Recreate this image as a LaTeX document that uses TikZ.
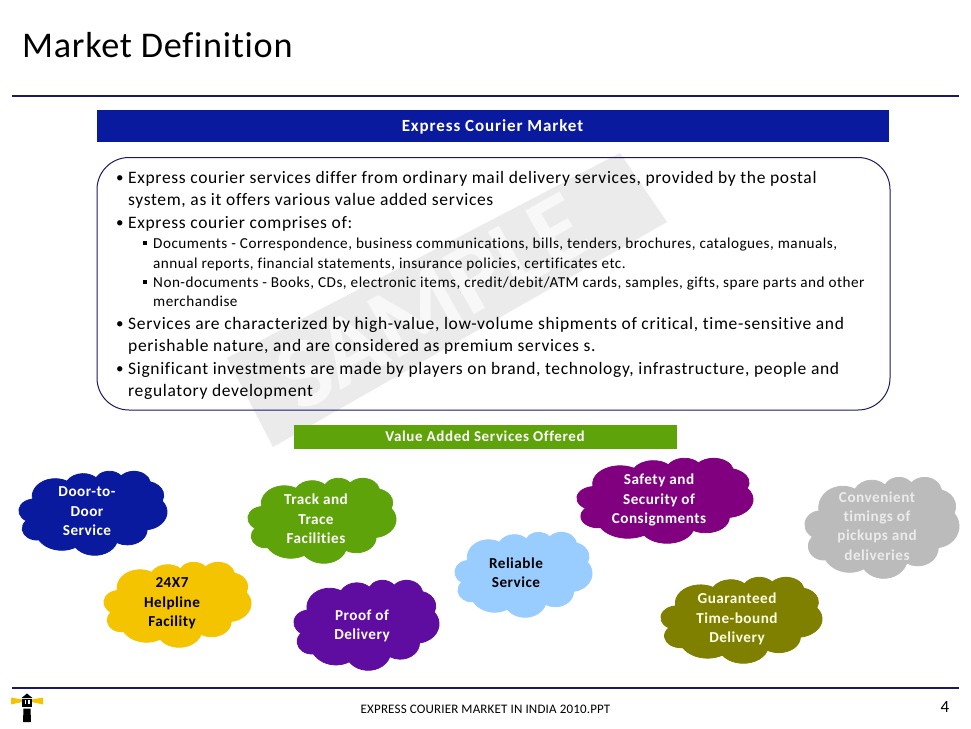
\documentclass[tikz,border=0pt]{standalone}
\usepackage{fontspec}
\setmainfont{Carlito}[Ligatures=NoCommon,RawFeature={-liga;-clig}]
\newfontfamily\titlefont[RawFeature={-liga;-clig},LetterSpace=2]{Carlito}
\newfontfamily\mainls[LetterSpace=3.8,RawFeature={-liga;-clig}]{Carlito}
\newfontfamily\subls[LetterSpace=3.2,RawFeature={-liga;-clig}]{Carlito}
\newfontfamily\boldls[LetterSpace=3.2,RawFeature={-liga;-clig}]{Carlito}
\newfontfamily\hdrls[LetterSpace=5.3,RawFeature={-liga;-clig}]{Carlito}
\newfontfamily\vasls[LetterSpace=4.2,RawFeature={-liga;-clig}]{Carlito}
\newfontfamily\footls[LetterSpace=1.3]{Carlito}
\definecolor{navy}{HTML}{1A1A62}
\definecolor{barblue}{HTML}{0A1A9E}
\definecolor{bargreen}{HTML}{5FA30A}
\definecolor{wmgray}{HTML}{EBEBEB}
\definecolor{wmtext}{HTML}{F8F8F8}
\definecolor{lhyellow}{HTML}{F5C400}
\definecolor{cdoor}{HTML}{0A1A9E}
\definecolor{ctrack}{HTML}{5FA30A}
\definecolor{chelp}{HTML}{F5C400}
\definecolor{cproof}{HTML}{5F0CA0}
\definecolor{creli}{HTML}{99CCFF}
\definecolor{csafe}{HTML}{800080}
\definecolor{cconv}{HTML}{BBBBBB}
\definecolor{cguar}{HTML}{808000}
\tikzset{
  pa/.style n args={4}{
    start angle={-atan2(#1*sin(#3),#2*cos(#3))},
    delta angle={-mod(atan2(#1*sin(#3+#4),#2*cos(#3+#4))-atan2(#1*sin(#3),#2*cos(#3))+720,360)},
    x radius={\cw*#1*1pt}, y radius={\ch*#2*1pt}},
  mainline/.style={anchor=base west,inner sep=0pt,text=black,font=\mainls\fontsize{17.5}{18}\selectfont},
  subline/.style={anchor=base west,inner sep=0pt,text=black,font=\subls\fontsize{15.2}{16}\selectfont},
  bullet/.style={anchor=base west,inner sep=0pt,text=black,font=\fontsize{15}{18}\selectfont},
  subbullet/.style={fill=black,minimum size=4pt,inner sep=0pt},
  bartext/.style={inner sep=0pt,text=white,font=\hdrls\bfseries\fontsize{17}{18}\selectfont},
  bar/.style={minimum height=0pt,inner sep=0pt},
  cloudtext/.style={align=center,inner sep=0pt,font=\boldls\bfseries\fontsize{15.2}{19.4}\selectfont},
}
% #1 name, #2 fill, #3 left, #4 top, #5 width, #6 height, #7 text colour, #8 text centre, #9 text
\newcommand{\servicecloud}[9]{%
  \pgfmathsetmacro{\cw}{#5/43.2}%
  \pgfmathsetmacro{\ch}{#6/43.2}%
  \filldraw[#2,line width=0.8pt,line join=round] ({#3+\cw*3.9},{#4+\ch*14.37})
    arc[pa={6.753}{9.190}{-190.4875}{123.7805}]
    arc[pa={5.333}{7.267}{-144.1024}{89.9452}]
    arc[pa={4.365}{5.945}{-145.8079}{99.7230}]
    arc[pa={4.857}{6.595}{-130.9861}{117.2417}]
    arc[pa={5.333}{7.273}{-78.7089}{109.0269}]
    arc[pa={6.775}{9.220}{-46.2673}{130.2690}]
    arc[pa={5.785}{7.867}{0.6250}{114.0333}]
    arc[pa={6.752}{9.215}{22.4516}{115.1726}]
    arc[pa={7.720}{10.543}{66.2426}{75.7110}]
    arc[pa={4.360}{5.918}{-274.9421}{146.7356}]
    arc[pa={4.345}{5.945}{-246.8285}{152.5189}]
    -- cycle;
  \node[cloudtext,text=#7] (#1) at #8 {#9};%
}
\begin{document}
\begin{tikzpicture}[x=1pt,y=-1pt]
\useasboundingbox (0,0) rectangle (971,728);
\fill[white] (0,0) rectangle (971,728);
% title and rules
\node[anchor=base west,inner sep=0pt,font=\titlefont\fontsize{36.2}{40}\selectfont,text=black] (title) at (22,57) {Market Definition};
\coordinate (ruleAl) at (12,96); \coordinate (ruleAr) at (959,96);
\coordinate (ruleBl) at (12,688); \coordinate (ruleBr) at (959,688);
\draw[navy,line width=2pt] (ruleAl) -- (ruleAr);
\draw[navy,line width=2pt] (ruleBl) -- (ruleBr);
% watermark
\fill[wmgray] (620,153) -- (667,222) -- (273,447) -- (227,358) -- cycle;
\node[rotate=29.5,inner sep=0pt,text=wmtext,font=\bfseries\fontsize{100}{110}\selectfont] (wm) at (432,302) {SAMPLE};
% header
\node[bar,fill=barblue,minimum width=792pt,minimum height=32pt] (hdr) at (493,126) {};
\node[bartext] (hdrt) at (492.5,127) {Express Courier Market};
\node[draw=navy,line width=1pt,rounded corners=32pt,minimum width=793pt,minimum height=252.5pt,inner sep=0pt] (box) at (493.5,283.75) {};
% body text
\node[bullet] (b1) at (116,182.5) {•};
\node[mainline] (l1) at (128,183) {Express courier services differ from ordinary mail delivery services, provided by the postal};
\node[mainline] (l2) at (128,205.5) {system, as it offers various value added services};
\node[bullet] (b2) at (116,227.5) {•};
\node[mainline] (l3) at (128,228) {Express courier comprises of:};
\node[subbullet] (s1) at (144.5,243) {};
\node[subline] (l4) at (153,248) {Documents - Correspondence, business communications, bills, tenders, brochures, catalogues, manuals,};
\node[subline] (l5) at (153,268) {annual reports, financial statements, insurance policies, certificates etc.};
\node[subbullet] (s2) at (144.5,282) {};
\node[subline] (l6) at (153,287) {Non-documents - Books, CDs, electronic items, credit/debit/ATM cards, samples, gifts, spare parts and other};
\node[subline] (l7) at (153,306) {merchandise};
\node[bullet] (b3) at (116,328.5) {•};
\node[mainline] (l8) at (128,329) {Services are characterized by high-value, low-volume shipments of critical, time-sensitive and};
\node[mainline] (l9) at (128,351) {perishable nature, and are considered as premium services s.};
\node[bullet] (b4) at (116,373.5) {•};
\node[mainline] (l10) at (128,374) {Significant investments are made by players on brand, technology, infrastructure, people and};
\node[mainline] (l11) at (128,396) {regulatory development};
% green bar
\node[bar,fill=bargreen,minimum width=383pt,minimum height=24pt] (vas) at (485.5,437) {};
\node[bartext,font=\vasls\bfseries\fontsize{15}{18}\selectfont] (vast) at (485,436.5) {Value Added Services Offered};
% clouds
\servicecloud{c1}{cdoor}{19}{471}{148}{84}{white}{(87,511.5)}{Door-to-\\Door\\Service}
\servicecloud{c2}{ctrack}{248}{478}{148}{85}{white}{(316,519)}{Track and\\Trace\\Facilities}
\servicecloud{c3}{chelp}{104}{562}{147}{85}{black}{(172,603.5)}{24X7\\Helpline\\Facility}
\servicecloud{c4}{cproof}{294}{580}{145}{90}{white}{(362,626)}{Proof of\\Delivery}
\servicecloud{c5}{creli}{455}{532}{137}{85}{black}{(516,572.5)}{Reliable\\Service}
\servicecloud{c6}{csafe}{577}{458}{176}{85}{white}{(659,500)}{Safety and\\Security of\\Consignments}
\servicecloud{c7}{cconv}{805}{477}{154}{101}{white!92!black}{(877,526)}{Convenient\\timings of\\pickups and\\deliveries}
\servicecloud{c8}{cguar}{661}{577}{161}{86}{white!90!yellow}{(737,619)}{Guaranteed\\Time-bound\\Delivery}
% footer
\node[inner sep=0pt,text=black,font=\footls\fontsize{13}{14}\selectfont,anchor=base] (foot) at (485.5,713) {EXPRESS COURIER MARKET IN INDIA 2010.PPT};
\node[inner sep=0pt,text=black,font=\fontsize{17}{18}\selectfont,anchor=base] (pg) at (945,712.5) {4};
% lighthouse logo
\fill[lhyellow] (11,697.5) -- (22,699.5) -- (22,702) -- (11,704.5) -- cycle;
\fill[lhyellow] (43,697.5) -- (32,699.5) -- (32,702) -- (43,704.5) -- cycle;
\fill[black] (27,693.5) -- (32.5,698) -- (21.5,698) -- cycle;
\fill[black] (22,699) rectangle (32,707);
\fill[white] (24.5,700) rectangle (26,704);
\fill[white] (28,700) rectangle (29.5,704);
\fill[black] (23.5,708.5) -- (30.5,708.5) -- (31,722) -- (23,722) -- cycle;
\end{tikzpicture}
\end{document}
